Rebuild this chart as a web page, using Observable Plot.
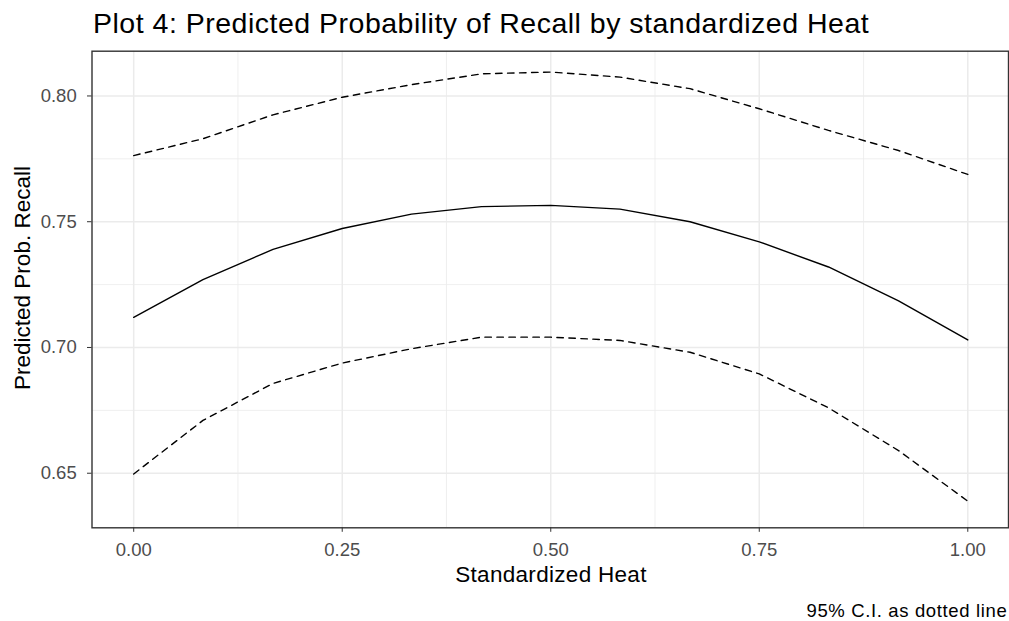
<!DOCTYPE html>
<html>
<head>
<meta charset="utf-8">
<script src="https://cdn.jsdelivr.net/npm/d3@7"></script>
<script src="https://cdn.jsdelivr.net/npm/@observablehq/plot@0.6"></script>
<style>
  html, body { margin: 0; padding: 0; background: #ffffff; }
  #wrap { position: relative; width: 1009px; height: 621px; overflow: hidden; background: #fff;
          font-family: "Liberation Sans", Arial, sans-serif; }
  .txt { position: absolute; line-height: 1; white-space: nowrap; color: #000; }
  #plot { position: absolute; left: 0; top: 40px; }
</style>
</head>
<body>
<div id="wrap">
  <div class="txt" id="title" style="left:93px; top:8.6px; font-size:28.5px; letter-spacing:0.5px;">Plot 4: Predicted Probability of Recall by standardized Heat</div>
  <div id="plot"></div>
  <div class="txt" id="xtitle" style="left:351px; top:564.3px; width:400px; text-align:center; font-size:22.5px; letter-spacing:0.3px;">Standardized Heat</div>
  <div class="txt" id="ytitle" style="left:12px; top:478px; width:400px; text-align:center; font-size:22.5px; transform-origin:0 0; transform:rotate(-90deg);">Predicted Prob. Recall</div>
  <div class="txt" id="caption" style="right:1.7px; top:602.3px; font-size:18.5px; letter-spacing:0.64px;">95% C.I. as dotted line</div>
</div>
<script>
// Data
const heat  = [0, 0.083, 0.167, 0.25, 0.333, 0.417, 0.5, 0.583, 0.667, 0.75, 0.833, 0.917, 1];
const fit   = [0.712, 0.727, 0.739, 0.7473, 0.753, 0.756, 0.7565, 0.755, 0.750, 0.742, 0.732, 0.7185, 0.703];
const upper = [0.7763, 0.783, 0.7925, 0.7995, 0.8045, 0.8088, 0.8095, 0.8075, 0.8029, 0.7949, 0.7863, 0.7783, 0.7688];
const lower = [0.6497, 0.671, 0.6857, 0.6938, 0.6995, 0.7041, 0.7041, 0.7028, 0.6981, 0.6895, 0.676, 0.659, 0.6389];

const xTicks = [0, 0.25, 0.5, 0.75, 1];
const xMinor = [0.125, 0.375, 0.625, 0.875];
const yTicks = [0.65, 0.70, 0.75, 0.80];
const yMinor = [0.675, 0.725, 0.775];

const rows = heat.map((h, i) => ({heat: h, fit: fit[i], upper: upper[i], lower: lower[i]}));

const chart = Plot.plot({
  width: 1009,
  height: 545,
  marginTop: 10.7,
  marginBottom: 57.7,
  marginLeft: 91.5,
  marginRight: 0,
  style: {fontFamily: '"Liberation Sans", Arial, sans-serif', background: "#fff", color: "#000"},
  x: {domain: [-0.05, 1.05]},
  y: {domain: [0.6283, 0.8178]},
  marks: [
    Plot.gridX(xMinor, {stroke: "#ebebeb", strokeOpacity: 1, strokeWidth: 0.8}),
    Plot.gridY(yMinor, {stroke: "#ebebeb", strokeOpacity: 1, strokeWidth: 0.8}),
    Plot.gridX(xTicks, {stroke: "#ebebeb", strokeOpacity: 1, strokeWidth: 1.5}),
    Plot.gridY(yTicks, {stroke: "#ebebeb", strokeOpacity: 1, strokeWidth: 1.5}),
    Plot.line(rows, {x: "heat", y: "upper", stroke: "#000", strokeWidth: 1.4, strokeDasharray: "6.5,5.5"}),
    Plot.line(rows, {x: "heat", y: "lower", stroke: "#000", strokeWidth: 1.4, strokeDasharray: "6.5,5.5"}),
    Plot.line(rows, {x: "heat", y: "fit", stroke: "#000", strokeWidth: 1.4}),
    Plot.frame({stroke: "#333333", strokeWidth: 1.4, insetRight: 1}),
    Plot.axisX({ticks: xTicks, tickFormat: d3.format(".2f"), tickSize: 4.5, tickPadding: 10.2,
                fontSize: 18.5, stroke: "#333333", fill: "#4d4d4d", label: null}),
    Plot.axisY({ticks: yTicks, tickFormat: d3.format(".2f"), tickSize: 4.5, tickPadding: 10.8,
                fontSize: 18.5, stroke: "#333333", fill: "#4d4d4d", label: null})
  ]
});
document.getElementById("plot").appendChild(chart);
</script>
</body>
</html>
